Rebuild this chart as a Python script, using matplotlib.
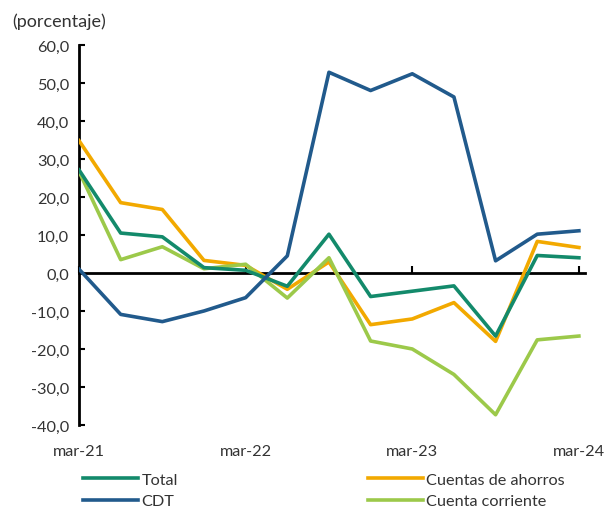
import matplotlib
matplotlib.use("Agg")
import matplotlib.pyplot as plt
from matplotlib.ticker import FuncFormatter, FixedLocator

periods = ["mar-21", "jun-21", "sep-21", "dic-21", "mar-22", "jun-22", "sep-22",
           "dic-22", "mar-23", "jun-23", "sep-23", "dic-23", "mar-24"]
total = [27.1, 10.5, 9.5, 1.4, 0.7, -3.5, 10.2, -6.2, -4.8, -3.4, -16.6, 4.6, 4.0]
cdt = [1.0, -10.9, -12.8, -10.0, -6.5, 4.5, 52.8, 48.0, 52.4, 46.3, 3.2, 10.2, 11.1]
ahorros = [34.8, 18.5, 16.7, 3.3, 2.0, -4.3, 2.9, -13.6, -12.1, -7.8, -18.0, 8.3, 6.7]
corriente = [26.7, 3.5, 6.9, 1.1, 2.3, -6.6, 4.0, -17.9, -20.0, -26.7, -37.3, -17.6, -16.6]
tick_labels = ["mar-21", "mar-22", "mar-23", "mar-24"]
tick_idx = [0, 4, 8, 12]

plt.rcParams['font.family'] = ['Lato', 'DejaVu Sans']
fs = 11.7
txt = "#333333"

fig = plt.figure(figsize=(6.14, 5.10), dpi=100)
ax = fig.add_axes([0.1287, 0.1647, 0.953 - 0.1287, 0.91 - 0.1647])

x = list(range(len(periods)))
c_total = "#138A6B"
c_cdt = "#215A8C"
c_ah = "#F2A900"
c_cc = "#9CC94A"
lw = 2.6
l_tot, = ax.plot(x, total, color=c_total, lw=lw, label="Total", zorder=4)
l_ah, = ax.plot(x, ahorros, color=c_ah, lw=lw, label="Cuentas de ahorros", zorder=3)
l_cdt, = ax.plot(x, cdt, color=c_cdt, lw=lw, label="CDT", zorder=5)
l_cc, = ax.plot(x, corriente, color=c_cc, lw=lw, label="Cuenta corriente", zorder=3)

ax.set_xlim(0, 12.15)
ax.set_ylim(-40, 60)
ax.set_yticks(range(-40, 61, 10))
ax.yaxis.set_major_formatter(FuncFormatter(lambda v, p: f"{v:.1f}".replace(".", ",")))
ax.tick_params(axis='y', direction='in', length=4, width=1.5, labelsize=fs,
               labelcolor=txt, pad=7)

for s in ["top", "right"]:
    ax.spines[s].set_visible(False)
ax.spines["left"].set_linewidth(2)
ax.spines["bottom"].set_position(("data", 0))
ax.spines["bottom"].set_linewidth(2)
ax.spines["bottom"].set_zorder(2)
ax.set_xticks(tick_idx)
ax.tick_params(axis='x', direction='in', length=5, width=1.5, labelbottom=False)

sec = ax.secondary_xaxis('bottom')
sec.xaxis.set_major_locator(FixedLocator(tick_idx))
sec.set_xticklabels(tick_labels)
sec.spines["bottom"].set_visible(False)
sec.tick_params(axis='x', length=0, labelsize=fs, labelcolor=txt, pad=14)

fig.text(0.02, 0.957, "(porcentaje)", fontsize=13, color=txt, ha="left", va="center")

fig.legend(handles=[l_tot, l_cdt, l_ah, l_cc], ncol=2, loc="upper left",
           bbox_to_anchor=(0.135, 0.072), frameon=False, fontsize=fs,
           handlelength=3.4, handletextpad=0.2, columnspacing=11.7,
           labelspacing=0.45, labelcolor=txt, borderpad=0, borderaxespad=0)

fig.savefig("out.png", dpi=100)
